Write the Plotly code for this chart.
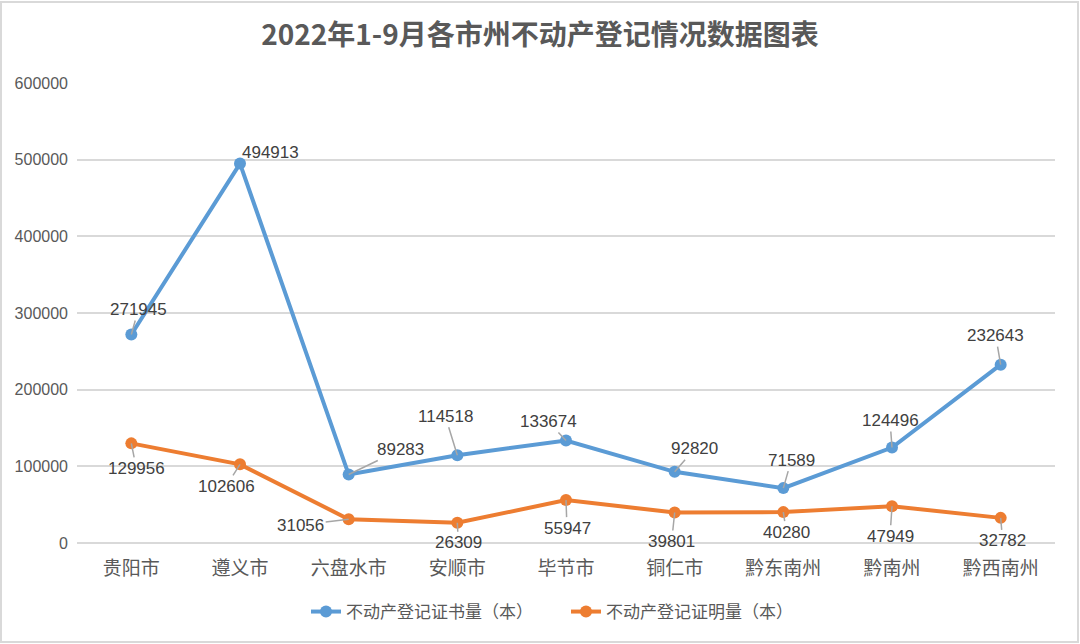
import plotly.graph_objects as go

# 数据
cities = ['贵阳市', '遵义市', '六盘水市', '安顺市', '毕节市', '铜仁市', '黔东南州', '黔南州', '黔西南州']
book_counts = [271945, 494913, 89283, 114518, 133674, 92820, 71589, 124496, 232643]
proof_counts = [129956, 102606, 31056, 26309, 55947, 39801, 40280, 47949, 32782]
y_ticks = [0, 100000, 200000, 300000, 400000, 500000, 600000]

# label offsets in pixels (like Excel's dragged data labels)
book_offsets = [(7, -25), (30, -11), (52, -25), (-12, -39), (-18, -19), (20, -23), (8, -28), (-2, -27), (-5, -29)]
proof_offsets = [(5, 25), (-14, 22), (-48, 6), (1, 20), (1, 28), (-3, 29), (3, 20), (-2, 30), (2, 23)]

BLUE = '#5B9BD5'
ORANGE = '#ED7D31'
CJK = 'Noto Sans CJK SC'

fig = go.Figure()
fig.add_trace(go.Scatter(x=cities, y=book_counts, mode='lines+markers', name='不动产登记证书量（本）',
                         line=dict(color=BLUE, width=4), marker=dict(size=12, color=BLUE)))
fig.add_trace(go.Scatter(x=cities, y=proof_counts, mode='lines+markers', name='不动产登记证明量（本）',
                         line=dict(color=ORANGE, width=4), marker=dict(size=12, color=ORANGE)))

# data labels with leader lines
for values, offsets in [(book_counts, book_offsets), (proof_counts, proof_offsets)]:
    for c, v, (dx, dy) in zip(cities, values, offsets):
        fig.add_annotation(x=c, y=v, text=str(v), showarrow=True, arrowhead=0,
                           arrowwidth=1.5, arrowcolor='#A6A6A6', ax=dx, ay=dy,
                           font=dict(family='Liberation Sans, ' + CJK, size=17, color='#404040'))

# outer chart border
fig.add_shape(type='rect', xref='paper', yref='paper', x0=-0.0777, x1=1.0235, y0=-0.215, y1=1.176,
              line=dict(color='#D9D9D9', width=2), fillcolor='rgba(0,0,0,0)', layer='below')

fig.update_layout(
    width=1080, height=644,
    margin=dict(l=77, r=25, t=83, b=101),
    plot_bgcolor='white', paper_bgcolor='white',
    title=dict(text='<b>2022年1-9月各市州不动产登记情况数据图表</b>', x=0.5, xanchor='center',
               y=0.945, yanchor='middle',
               font=dict(family=CJK, size=28, color='#595959')),
    xaxis=dict(range=[-0.5, 8.5], showgrid=False, showline=False, ticks='',
               ticklabelstandoff=12,
               tickfont=dict(family=CJK, size=19, color='#595959')),
    yaxis=dict(range=[0, 600000], tickvals=y_ticks, tickformat='d', showgrid=True,
               gridcolor='#D9D9D9', gridwidth=1.5, zeroline=True, zerolinecolor='#D9D9D9',
               zerolinewidth=1.5, showline=False, ticklabelstandoff=8,
               tickfont=dict(family='Liberation Sans', size=16, color='#595959')),
    legend=dict(orientation='h', x=0.5, xanchor='center', y=-0.15, yanchor='middle',
                entrywidth=215, entrywidthmode='pixels',
                font=dict(family=CJK, size=17, color='#595959')),
    showlegend=True,
)

# drop the default page margin so the 1080x644 figure fills the window
fig.write_html('out.html', config={'displayModeBar': False},
               post_script="document.body.style.margin='0px';")
